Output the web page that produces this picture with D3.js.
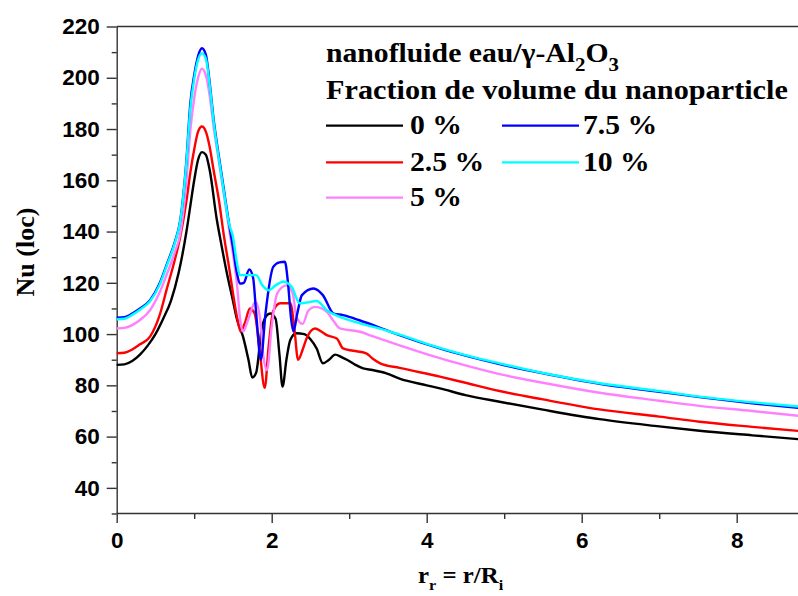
<html>
<head>
<meta charset="utf-8">
<script src="https://d3js.org/d3.v7.min.js"></script>
<title>Nu (loc)</title>
<style>
  body { margin: 0; background: #fff; }
  .tick text { font-family: "Liberation Sans", Arial, sans-serif; font-weight: bold; font-size: 22.5px; fill: #000; }
  .serif { font-family: "Liberation Serif", "Times New Roman", serif; font-weight: bold; fill: #000; }
</style>
</head>
<body>
<svg id="chart" width="798" height="596"></svg>
<script>
// values: [r_r, Nu(loc)]
const nu0 = [[0,88],[0.1,88.2],[0.2,89.5],[0.3,92],[0.4,95.5],[0.5,100],[0.6,106],[0.7,113],[0.8,124],[0.9,140],[0.95,150],[1.0,160],[1.05,168],[1.1,171],[1.15,170],[1.2,164],[1.29,145],[1.35,135],[1.42,124],[1.5,113],[1.55,106],[1.63,99],[1.7,90],[1.75,83],[1.8,85],[1.87,102],[1.93,107],[1.98,108],[2.05,106],[2.1,92],[2.14,79.5],[2.19,90],[2.24,97.7],[2.32,100.3],[2.42,100],[2.5,98],[2.58,94.4],[2.66,88.6],[2.74,90],[2.82,92],[2.9,91],[2.97,90],[3.08,88],[3.18,86.6],[3.3,86],[3.48,84.7],[3.65,82.6],[4.0,80],[4.17,78.8],[4.5,76.2],[4.94,73.6],[5.5,70.5],[6.23,66.8],[7.0,64],[7.52,62.3],[8.2,60.5],[8.8,59]];
const nu25 = [[0,92.5],[0.1,92.7],[0.2,94],[0.3,96],[0.43,99],[0.55,107],[0.65,118],[0.75,129],[0.82,138],[0.9,152],[0.95,163],[1.0,172],[1.05,179],[1.1,181],[1.15,179],[1.2,173],[1.25,164],[1.32,152],[1.38,139],[1.45,126],[1.5,116],[1.55,107],[1.6,101],[1.65,104],[1.72,110],[1.78,108],[1.84,95],[1.91,79],[1.96,95],[2.02,109],[2.11,112],[2.24,112],[2.29,103],[2.34,90],[2.4,94],[2.45,98.3],[2.56,102.2],[2.64,101],[2.71,99.6],[2.84,98.3],[2.92,94.4],[3.05,93.5],[3.22,92.5],[3.3,90.5],[3.4,88.6],[3.65,86.8],[4.17,83.4],[4.5,81],[4.94,77.8],[5.5,74.5],[6.23,70.6],[7.0,67.8],[7.52,65.8],[8.2,63.8],[8.8,62.2]];
const nu5 = [[0,102.2],[0.1,102.4],[0.2,103.5],[0.3,105.5],[0.43,109.3],[0.55,116],[0.65,123.6],[0.75,132],[0.82,139.2],[0.9,160],[0.95,179.5],[1.0,192],[1.05,200],[1.1,203.5],[1.15,201],[1.2,193],[1.25,181],[1.32,167],[1.38,155],[1.45,141],[1.5,131.4],[1.55,120],[1.6,104],[1.63,101],[1.7,106],[1.79,112.6],[1.85,106],[1.89,92],[1.94,86],[2.0,103],[2.07,115.8],[2.19,119],[2.27,116],[2.32,106.7],[2.4,104],[2.47,109],[2.56,110.6],[2.71,108.7],[2.8,105],[2.88,102.2],[3.14,100.9],[3.3,99.2],[3.65,95.6],[4.17,90.6],[4.5,87.8],[4.94,84.4],[5.5,81],[6.23,77.1],[7.0,74],[7.52,72],[8.2,70],[8.8,68.1]];
const nu75 = [[0,106.4],[0.1,106.6],[0.2,108],[0.3,110],[0.43,113.2],[0.55,119.5],[0.65,127.5],[0.75,136],[0.82,144.4],[0.9,168],[0.95,190],[1.0,201],[1.05,208.5],[1.1,211.5],[1.15,209],[1.2,198],[1.25,184],[1.32,169],[1.38,157],[1.45,143],[1.5,134],[1.55,124],[1.59,119.7],[1.64,120],[1.71,125.2],[1.76,122],[1.8,108],[1.86,90],[1.92,108],[2.02,126.2],[2.1,128],[2.17,128.2],[2.21,120],[2.25,106],[2.28,101],[2.33,108],[2.39,115.2],[2.54,117.8],[2.66,115.2],[2.8,108],[2.92,107.4],[3.14,105.3],[3.48,101.5],[3.65,99.6],[4.17,94.4],[4.5,91.6],[4.94,88.3],[5.5,84.7],[6.23,80.6],[7.0,77.5],[7.52,75.4],[8.2,73],[8.8,71.2]];
const nu10 = [[0,105.8],[0.1,106],[0.2,107.5],[0.3,109.5],[0.43,112.8],[0.55,119],[0.65,127],[0.75,135.5],[0.82,144],[0.9,167],[0.95,188],[1.0,199.5],[1.05,207],[1.1,209.5],[1.15,207.5],[1.2,197],[1.25,183],[1.32,168],[1.38,156],[1.45,143],[1.5,138],[1.55,128],[1.59,123],[1.7,123],[1.8,123],[1.88,119],[1.96,117.1],[2.05,119],[2.15,120.4],[2.26,118.4],[2.32,114],[2.36,112],[2.45,112.3],[2.58,112.9],[2.71,109.3],[2.88,106.7],[3.14,104.2],[3.48,101.4],[3.65,99.8],[4.17,94.6],[4.5,91.8],[4.94,88.6],[5.5,84.8],[6.23,80.8],[7.0,77.8],[7.52,75.6],[8.2,73.4],[8.8,71.7]];

const seriesLabels = ["0 %", "2.5 %", "5 %", "7.5 %", "10 %"];
const seriesColors = ["#000000", "#ff0000", "#ff80ff", "#0000ff", "#00ffff"];
const xTicks = [0, 2, 4, 6, 8];
const yTicks = [40, 60, 80, 100, 120, 140, 160, 180, 200, 220];

const svg = d3.select("#chart");
const margin = { top: 26.5, left: 116.7, bottom: 513.5 };

const x = d3.scaleLinear().domain([0, 8]).range([margin.left, margin.left + 8 * 77.5]);
const y = d3.scaleLinear().domain([30, 220]).range([margin.bottom, margin.top]);

// frame top line
svg.append("line")
   .attr("x1", margin.left).attr("x2", 798)
   .attr("y1", margin.top).attr("y2", margin.top)
   .attr("stroke", "#333").attr("stroke-width", 1.4);

// minor ticks
svg.append("g")
   .attr("transform", "translate(0," + margin.bottom + ")")
   .call(d3.axisBottom(x).tickValues([1, 3, 5, 7, 9]).tickSize(5.5).tickFormat(""))
   .call(g => g.select(".domain").remove());
svg.append("g")
   .attr("transform", "translate(" + margin.left + ",0)")
   .call(d3.axisLeft(y).tickValues(d3.range(30, 221, 20)).tickSize(5).tickFormat(""))
   .call(g => g.select(".domain").remove());

// major axes
const xAxis = svg.append("g")
   .attr("transform", "translate(0," + margin.bottom + ")")
   .call(d3.axisBottom(x).tickValues(xTicks).tickSize(9.5).tickSizeOuter(0).tickPadding(9));
xAxis.select(".domain").attr("d", "M" + margin.left + ",0H798");

svg.append("g")
   .attr("transform", "translate(" + margin.left + ",0)")
   .call(d3.axisLeft(y).tickValues(yTicks).tickSize(10).tickSizeOuter(0).tickPadding(7));

svg.selectAll(".domain, .tick line").attr("stroke", "#333").attr("stroke-width", 1.4);

// curves
const line = d3.line()
   .x(d => x(d[0]))
   .y(d => y(d[1]))
   .curve(d3.curveMonotoneX);

const allSeries = [nu0, nu25, nu5, nu75, nu10];
svg.append("g")
   .selectAll("path.curve")
   .data(allSeries)
   .join("path")
   .attr("class", "curve")
   .attr("d", line)
   .attr("fill", "none")
   .attr("stroke", (d, i) => seriesColors[i])
   .attr("stroke-width", 2.4)
   .attr("stroke-linejoin", "round");

// axis titles
svg.append("text")
   .attr("class", "serif")
   .attr("transform", "translate(34,252) rotate(-90)")
   .attr("text-anchor", "middle")
   .attr("font-size", 26)
   .text("Nu (loc)");

const xt = svg.append("text")
   .attr("class", "serif")
   .attr("transform", "translate(418,583) scale(1.08,1)")
   .attr("font-size", 23);
xt.append("tspan").text("r");
xt.append("tspan").attr("font-size", 15).attr("dy", 7).text("r");
xt.append("tspan").attr("dy", -7).text(" = r/R");
xt.append("tspan").attr("font-size", 15).attr("dy", 7).text("i");

// legend (glyphs slightly wider than the plain font)
const legend = svg.append("g");
const t1 = legend.append("text")
   .attr("class", "serif")
   .attr("transform", "translate(326,61.7) scale(1.1,1)")
   .attr("font-size", 27);
t1.append("tspan").text("nanofluide eau/γ-Al");
t1.append("tspan").attr("font-size", 19).attr("dy", 9).text("2");
t1.append("tspan").attr("dy", -9).text("O");
t1.append("tspan").attr("font-size", 19).attr("dy", 9).text("3");

legend.append("text")
   .attr("class", "serif")
   .attr("transform", "translate(326,98.5) scale(1.12,1)")
   .attr("font-size", 27)
   .text("Fraction de volume du nanoparticle");

const legendPos = [
  { lx: 326, ly: 125.7 },
  { lx: 326, ly: 162.3 },
  { lx: 326, ly: 197.7 },
  { lx: 502, ly: 125.7 },
  { lx: 502, ly: 162.3 }
];
const items = legend.selectAll("g.item")
   .data(seriesLabels)
   .join("g")
   .attr("class", "item")
   .attr("transform", (d, i) => "translate(" + legendPos[i].lx + "," + legendPos[i].ly + ")");
items.append("line")
   .attr("x1", 0).attr("x2", 77)
   .attr("stroke", (d, i) => seriesColors[i])
   .attr("stroke-width", 2.2);
items.append("text")
   .attr("class", "serif")
   .attr("transform", (d, i) => "translate(" + (i < 3 ? 84 : 81) + ",8.5) scale(1.1,1)")
   .attr("font-size", 27)
   .text(d => d);
</script>
</body>
</html>
